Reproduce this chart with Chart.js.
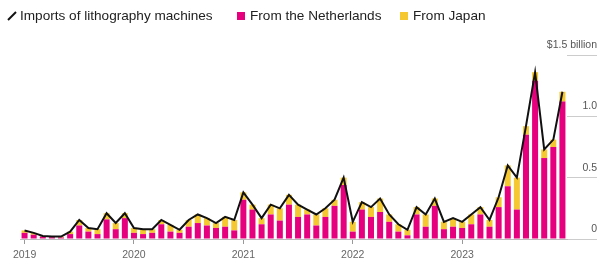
<!DOCTYPE html>
<html>
<head>
<meta charset="utf-8">
<script src="https://cdn.jsdelivr.net/npm/chart.js@4/dist/chart.umd.min.js"></script>
<style>
  html, body { margin: 0; padding: 0; background: #fff; }
  #wrap { position: relative; width: 599px; height: 262px; overflow: hidden; }
  #wrap canvas { position: absolute; left: 0; top: 0; }
  .lg { position: absolute; top: 8px; font: 13.6px "Liberation Sans", Arial, sans-serif; color: #222; white-space: nowrap; line-height: 16px; }
  .sw { position: absolute; top: 12px; width: 8px; height: 8px; }
  #lineIcon { position: absolute; left: 7px; top: 11px; width: 10px; height: 10px; }
</style>
</head>
<body>
<div id="wrap">
  <canvas id="chart" width="599" height="262"></canvas>
  <svg id="lineIcon" viewBox="0 0 10 10"><line x1="1" y1="9" x2="9" y2="1" stroke="#111" stroke-width="2"/></svg>
  <span class="lg" style="left:20px">Imports of lithography machines</span>
  <span class="sw" style="left:237px;background:#e6007e"></span>
  <span class="lg" style="left:250px">From the Netherlands</span>
  <span class="sw" style="left:400px;background:#f5c832"></span>
  <span class="lg" style="left:413px">From Japan</span>
</div>
<script>
// monthly, Jan 2019 - Dec 2023, $ billion
const years = ['2019', '2020', '2021', '2022', '2023'];

const totalImports = [
  0.07, 0.05, 0.025, 0.02, 0.02, 0.06, 0.155, 0.09, 0.08, 0.21, 0.13, 0.21,
  0.09, 0.08, 0.08, 0.155, 0.115, 0.075, 0.155, 0.2, 0.17, 0.13, 0.18, 0.155,
  0.38, 0.28, 0.17, 0.28, 0.25, 0.36, 0.28, 0.24, 0.2, 0.25, 0.32, 0.5,
  0.14, 0.3, 0.26, 0.33, 0.2, 0.12, 0.075, 0.26, 0.2, 0.33, 0.14, 0.17,
  0.14, 0.2, 0.26, 0.155, 0.34, 0.6, 0.5, 0.92, 1.36, 0.73, 0.81, 1.2
];

const fromNetherlands = [
  0.05, 0.035, 0.02, 0.015, 0.012, 0.04, 0.11, 0.06, 0.04, 0.16, 0.08, 0.17,
  0.05, 0.04, 0.05, 0.12, 0.06, 0.05, 0.1, 0.13, 0.11, 0.09, 0.1, 0.07,
  0.32, 0.24, 0.12, 0.2, 0.15, 0.28, 0.18, 0.2, 0.11, 0.18, 0.27, 0.44,
  0.06, 0.24, 0.18, 0.22, 0.14, 0.06, 0.03, 0.2, 0.1, 0.27, 0.08, 0.1,
  0.09, 0.12, 0.2, 0.1, 0.26, 0.43, 0.24, 0.85, 1.29, 0.66, 0.75, 1.12
];

const fromJapan = [
  0.02, 0.015, 0.005, 0.005, 0.008, 0.02, 0.045, 0.03, 0.04, 0.05, 0.05, 0.04,
  0.04, 0.04, 0.03, 0.035, 0.055, 0.025, 0.055, 0.07, 0.06, 0.04, 0.08, 0.085,
  0.06, 0.04, 0.05, 0.08, 0.1, 0.08, 0.1, 0.04, 0.09, 0.07, 0.05, 0.06,
  0.08, 0.06, 0.08, 0.11, 0.06, 0.06, 0.045, 0.06, 0.1, 0.06, 0.06, 0.07,
  0.05, 0.08, 0.06, 0.055, 0.08, 0.17, 0.26, 0.07, 0.07, 0.07, 0.06, 0.08
];

const yTicks = [0, 0.5, 1, 1.5];

const months = [];
years.forEach(y => {
  for (let m = 1; m <= 12; m++) months.push(y + '-' + (m < 10 ? '0' + m : m));
});

const tickFont = { family: '"Liberation Sans", Arial, sans-serif', size: 10.5 };

new Chart(document.getElementById('chart'), {
  data: {
    labels: months,
    datasets: [
      {
        type: 'line',
        label: 'Imports of lithography machines',
        data: totalImports,
        borderColor: '#111',
        borderWidth: 2,
        pointRadius: 0,
        tension: 0,
        stack: 'total',
        order: 0
      },
      {
        type: 'bar',
        label: 'From the Netherlands',
        data: fromNetherlands,
        backgroundColor: '#e6007e',
        stack: 'imports',
        barPercentage: 0.66,
        categoryPercentage: 1,
        order: 1
      },
      {
        type: 'bar',
        label: 'From Japan',
        data: fromJapan,
        backgroundColor: '#f5c832',
        stack: 'imports',
        barPercentage: 0.66,
        categoryPercentage: 1,
        order: 1
      }
    ]
  },
  options: {
    responsive: false,
    animation: false,
    layout: { padding: { left: 20, right: 2, top: 55, bottom: 0 } },
    plugins: {
      legend: { display: false },
      tooltip: { enabled: false }
    },
    scales: {
      x: {
        stacked: true,
        grid: {
          offset: false,
          drawOnChartArea: false,
          tickLength: 5,
          color: (c) => (c.index % 12 === 0 ? '#999' : 'rgba(0,0,0,0)')
        },
        border: { display: true, color: '#bbb' },
        ticks: {
          autoSkip: false,
          maxRotation: 0,
          padding: 5,
          color: '#666',
          font: tickFont,
          callback: function (v, i) {
            return i % 12 === 0 ? months[i].slice(0, 4) : '';
          }
        },
        afterFit: (s) => { s.height = 23; }
      },
      y: {
        position: 'right',
        stacked: true,
        min: 0,
        max: 1.5,
        afterBuildTicks: (s) => { s.ticks = yTicks.map(v => ({ value: v })); },
        grid: {
          drawOnChartArea: false,
          tickLength: 30,
          color: '#ccc'
        },
        border: { display: false },
        ticks: {
          mirror: true,
          padding: 30,
          labelOffset: -10,
          color: '#555',
          font: tickFont,
          callback: (v) => (v === 1.5 ? '$1.5 billion' : v === 0 ? '0' : v.toFixed(1))
        },
        afterFit: (s) => { s.width = 30; s.paddingTop = 0; s.paddingBottom = 0; }
      }
    }
  }
});
</script>
</body>
</html>
